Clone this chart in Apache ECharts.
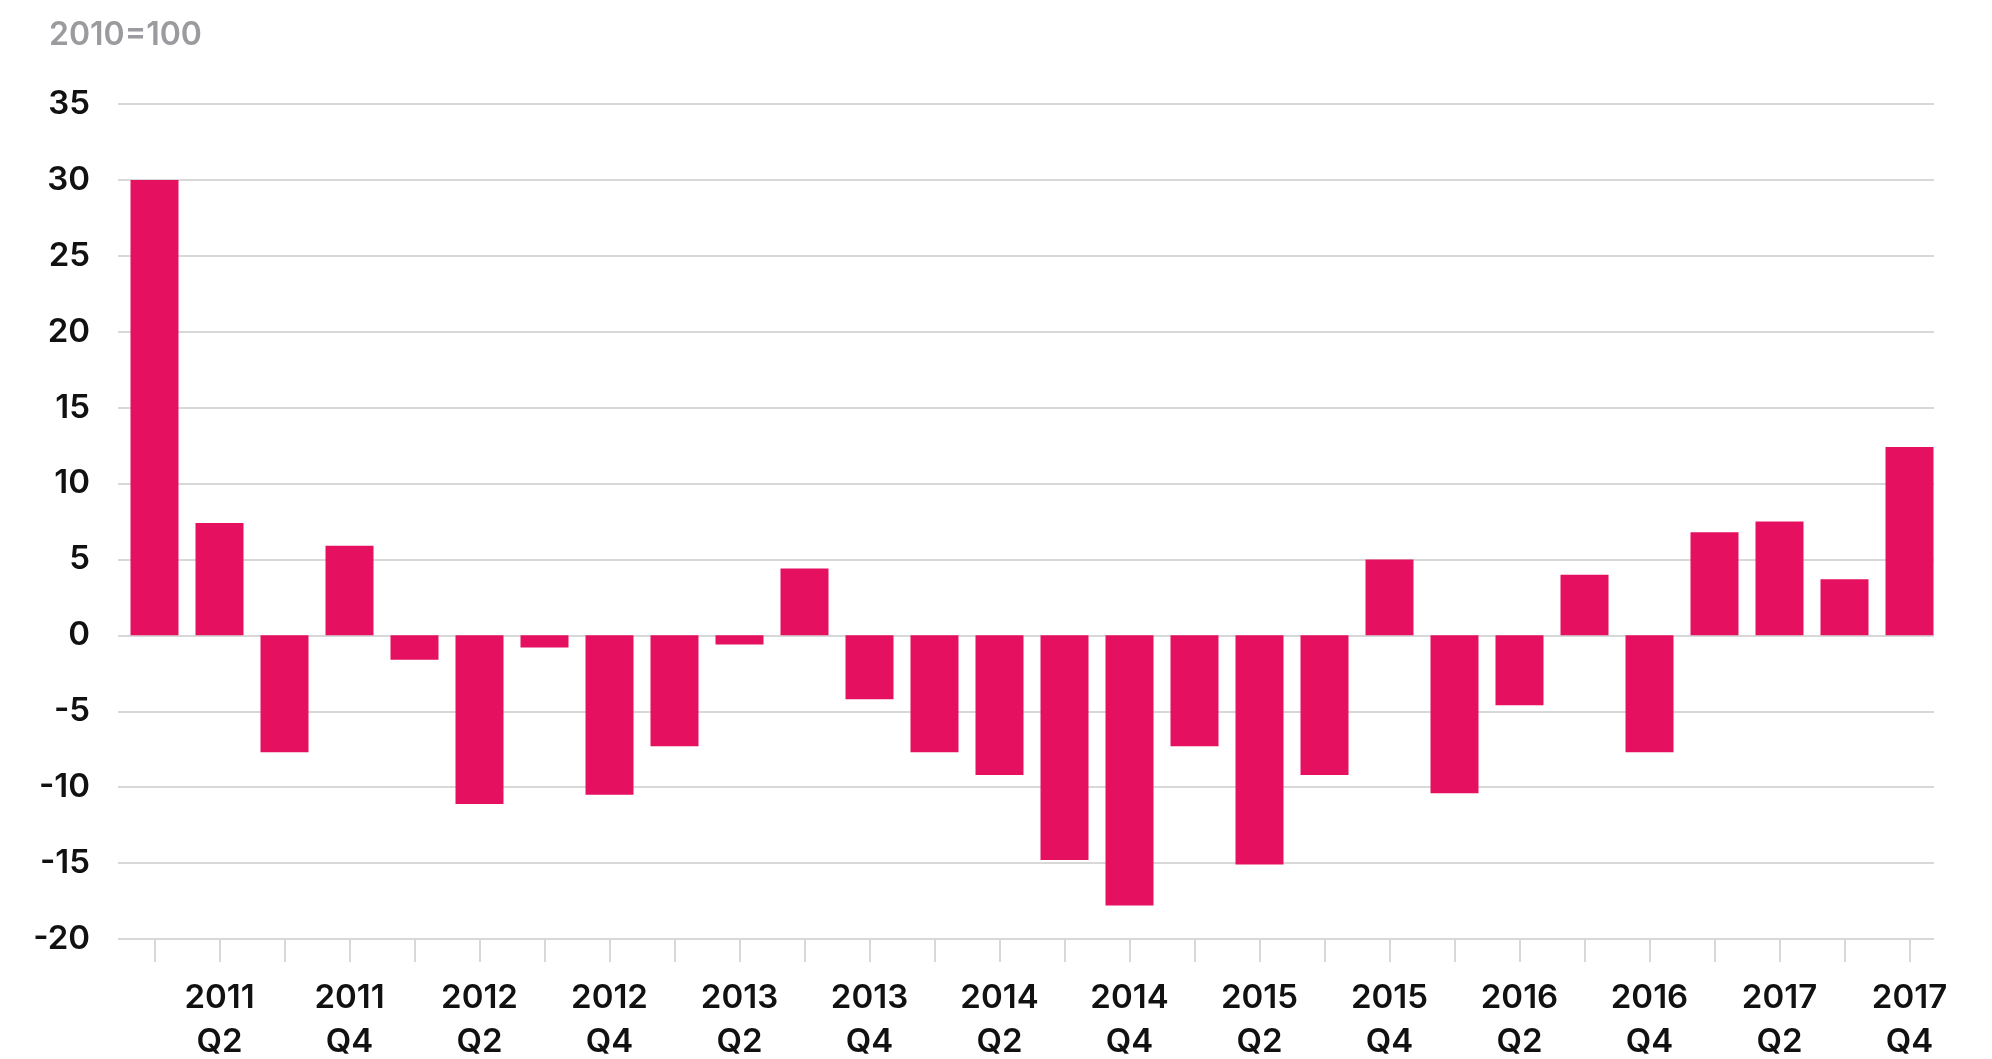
<!DOCTYPE html>
<html>
<head>
<meta charset="utf-8">
<style>
  html, body { margin: 0; padding: 0; background: #fff; }
  #chart { width: 1992px; height: 1059px; }
</style>
<script src="https://cdn.jsdelivr.net/npm/echarts@6/dist/echarts.min.js"></script>
</head>
<body>
<div id="chart"></div>
<script>
// 季度
const years = ['2011', '2012', '2013', '2014', '2015', '2016', '2017'];
const quarters = ['Q1', 'Q2', 'Q3', 'Q4'];
const categories = [];
years.forEach(function (y) {
    quarters.forEach(function (q) { categories.push(y + '\n' + q); });
});
// 数值 (2010=100)
const values = [
    30.0, 7.4, -7.7, 5.9,
    -1.6, -11.1, -0.8, -10.5,
    -7.3, -0.6, 4.4, -4.2,
    -7.7, -9.2, -14.8, -17.8,
    -7.3, -15.1, -9.2, 5.0,
    -10.4, -4.6, 4.0, -7.7,
    6.8, 7.5, 3.7, 12.4
];
const yMin = -20, yMax = 35, yStep = 5;
const unitLabel = '2010=100';

const font = 'Inter, Lato, sans-serif';
const gridColor = '#d8d8d8';

(function () {
    let myChart = echarts.init(document.getElementById('chart'));
    let option = {
        animation: false,
        title: {
            text: unitLabel,
            left: 44,
            top: 14,
            textStyle: { fontFamily: font, fontSize: 32, fontWeight: 600, color: '#9b9b9f' }
        },
        // grid 0: 网格线和 y 轴文字, grid 1: 柱子
        // outerBoundsMode none: 不让底部两行标签把网格压缩
        grid: [
            { left: 118, right: 58, top: 104, bottom: 120, outerBoundsMode: 'none' },
            { left: 122, right: 50, top: 104, bottom: 120, outerBoundsMode: 'none' }
        ],
        xAxis: [
            { type: 'category', gridIndex: 0, data: categories, show: false },
            {
                type: 'category',
                gridIndex: 1,
                data: categories,
                axisLine: { show: false, onZero: false },
                axisTick: {
                    show: true,
                    alignWithLabel: true,
                    interval: 0,
                    length: 23,
                    lineStyle: { color: gridColor, width: 2 }
                },
                axisLabel: {
                    interval: function (index) { return index % 2 === 1; },
                    margin: 37,
                    fontFamily: font,
                    fontSize: 33,
                    fontWeight: 600,
                    lineHeight: 44,
                    color: '#111'
                }
            }
        ],
        yAxis: [
            {
                type: 'value',
                gridIndex: 0,
                min: yMin,
                max: yMax,
                interval: yStep,
                axisLine: { show: false },
                axisTick: { show: false },
                axisLabel: { margin: 28, fontFamily: font, fontSize: 33, fontWeight: 600, color: '#111' },
                splitLine: { lineStyle: { color: gridColor, width: 2 } }
            },
            {
                type: 'value',
                gridIndex: 1,
                min: yMin,
                max: yMax,
                interval: yStep,
                show: false,
                splitLine: { show: false }
            }
        ],
        series: [{
            type: 'bar',
            xAxisIndex: 1,
            yAxisIndex: 1,
            barWidth: 48,
            itemStyle: { color: '#e61060' },
            data: values
        }]
    };
    myChart.setOption(option);
    window.addEventListener('resize', function () {
        myChart.resize();
    });
})();
</script>
</body>
</html>
